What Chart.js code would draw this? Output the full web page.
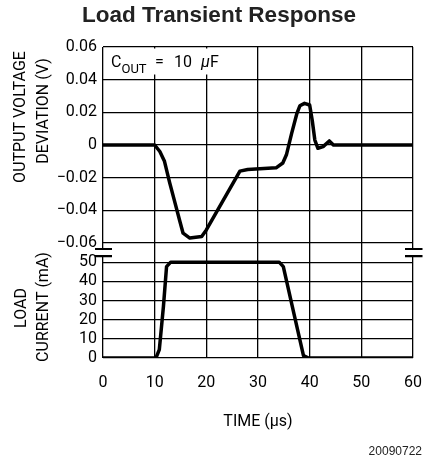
<!DOCTYPE html>
<html>
<head>
<meta charset="utf-8">
<script src="https://cdn.jsdelivr.net/npm/chart.js@4.4.0/dist/chart.umd.min.js"></script>
<style>
  html, body { margin: 0; padding: 0; background: #fff; }
</style>
</head>
<body>
<canvas id="myChart" width="426" height="461"></canvas>
<script>
// tick labels
var timeTicks = [0, 10, 20, 30, 40, 50, 60];
var voltTicks = [-0.06, -0.04, -0.02, 0, 0.02, 0.04, 0.06];
var currTicks = [0, 10, 20, 30, 40, 50];

// output voltage deviation (V) vs time (us)
var voltTime   = [0, 10, 11.0, 11.9, 12.9, 13.9, 14.9, 15.5, 16.8, 19.1, 20.0, 26.5, 28.0, 33.5, 34.8, 35.5, 36.5, 37.5, 38.1, 39.0, 40.0, 40.5, 41.0, 41.6, 42.6, 43.8, 44.6, 60];
var voltValues = [0, 0, -0.004, -0.010, -0.023, -0.035, -0.047, -0.054, -0.057, -0.056, -0.052, -0.016, -0.015, -0.014, -0.011, -0.006, 0.007, 0.019, 0.024, 0.0255, 0.0245, 0.015, 0.003, -0.002, -0.001, 0.0025, 0, 0];

// load current (mA) vs time (us)
var currTime   = [0, 10.25, 10.9, 11.7, 12.3, 13.1, 34.1, 34.9, 36.8, 38.8, 39.8, 60];
var currValues = [0, 0, 4.4, 27, 47.7, 50, 50, 47.7, 25, 1.2, 0, 0];

var narrow = 'Roboto, "DejaVu Sans", sans-serif';
var arial = '"Liberation Sans", Arial, sans-serif';
Chart.defaults.font.family = narrow;
Chart.defaults.color = '#000';

function toPoints(xs, ys) {
  return xs.map(function (x, i) { return {x: x, y: ys[i]}; });
}
function useTicks(list) {
  return function (scale) {
    scale.ticks = list.map(function (v) { return {value: v}; });
  };
}
function fmtVolt(v) {
  if (Math.abs(v) < 1e-9) return '0';
  var s = Math.abs(v).toFixed(2);
  return v < 0 ? '\u2212' + s : s;
}

var grid = { color: '#000', lineWidth: 1.3, drawTicks: false };

// texts and marks around the plot area
var decor = {
  id: 'decor',
  beforeDraw: function (chart) {
    // title sits a little right of the canvas centre
    chart.titleBlock.left = 12;
    chart.titleBlock.right = 426;
  },
  afterDraw: function (chart) {
    var ctx = chart.ctx, a = chart.chartArea;
    var yI = chart.scales.yI;
    ctx.save();

    // C_OUT note
    ctx.fillStyle = '#fff';
    ctx.fillRect(a.left + 1, a.top + 1.5, 120, 26);
    ctx.fillStyle = '#000';
    ctx.textAlign = 'left';
    ctx.textBaseline = 'alphabetic';
    ctx.font = '16px ' + narrow;
    ctx.fillText('C', a.left + 8, a.top + 20);
    ctx.font = '13px ' + narrow;
    ctx.fillText('OUT', a.left + 18.5, a.top + 26);
    ctx.font = '16px ' + narrow;
    ctx.fillText('=', a.left + 52, a.top + 20);
    ctx.fillText('10', a.left + 71, a.top + 20);
    ctx.font = 'italic 16px ' + narrow;
    ctx.fillText('\u03bc', a.left + 98, a.top + 20);
    ctx.font = '16px ' + narrow;
    ctx.fillText('F', a.left + 107, a.top + 20);

    // axis break marks
    var yb = yI.getPixelForValue(55);
    [[a.left - 8, a.left + 9], [a.right - 8, a.right + 9.5]].forEach(function (p) {
      ctx.fillStyle = '#fff';
      ctx.fillRect(p[0], yb - 3, p[1] - p[0], 6);
      ctx.strokeStyle = '#000';
      ctx.lineWidth = 2.2;
      ctx.beginPath();
      ctx.moveTo(p[0], yb - 3.6); ctx.lineTo(p[1], yb - 3.6);
      ctx.moveTo(p[0], yb + 3.6); ctx.lineTo(p[1], yb + 3.6);
      ctx.stroke();
    });

    // y axis titles
    ctx.fillStyle = '#000';
    ctx.font = '16px ' + narrow;
    ctx.textAlign = 'center';
    ctx.textBaseline = 'middle';
    [['OUTPUT VOLTAGE', 21, 117], ['DEVIATION (V)', 43.5, 111],
     ['LOAD', 22, 308], ['CURRENT (mA)', 43.5, 307]].forEach(function (t) {
      ctx.save();
      ctx.translate(t[1], t[2]);
      ctx.rotate(-Math.PI / 2);
      ctx.fillText(t[0], 0, 0);
      ctx.restore();
    });

    // figure number
    ctx.fillStyle = '#222';
    ctx.font = '12px ' + arial;
    ctx.textAlign = 'right';
    ctx.textBaseline = 'alphabetic';
    ctx.fillText('20090722', 422, 455);
    ctx.restore();
  }
};

var ctx = document.getElementById('myChart').getContext('2d');
var chart = new Chart(ctx, {
  type: 'line',
  data: {
    datasets: [{
      label: 'Output voltage deviation',
      data: toPoints(voltTime, voltValues),
      yAxisID: 'yV',
      borderColor: '#000',
      borderWidth: 3.5,
      pointRadius: 0,
      tension: 0,
      borderJoinStyle: 'round',
      borderCapStyle: 'round'
    }, {
      label: 'Load current',
      data: toPoints(currTime, currValues),
      yAxisID: 'yI',
      borderColor: '#000',
      borderWidth: 3.5,
      pointRadius: 0,
      tension: 0,
      borderJoinStyle: 'round',
      borderCapStyle: 'round'
    }]
  },
  options: {
    responsive: false,
    animation: false,
    events: [],
    layout: { padding: { left: 0, right: 13, top: 0, bottom: 0 } },
    plugins: {
      legend: { display: false },
      tooltip: { enabled: false },
      title: {
        display: true,
        text: 'Load Transient Response',
        color: '#222',
        font: { family: arial, size: 22.5, weight: 'bold', lineHeight: 1.2 },
        padding: { top: 2, bottom: 18 }
      }
    },
    scales: {
      x: {
        type: 'linear',
        min: 0, max: 60,
        afterBuildTicks: useTicks(timeTicks),
        afterFit: function (s) { s.height = 103; s.paddingLeft = 0; s.paddingRight = 0; },
        grid: grid,
        border: { display: false },
        ticks: { padding: 15, autoSkip: false, maxRotation: 0, font: { size: 16 } },
        title: { display: true, text: 'TIME (\u03bcs)', font: { size: 16 }, padding: { top: 0, bottom: 29 } }
      },
      yV: {
        type: 'linear',
        position: 'left',
        stack: 'panels',
        stackWeight: 196,
        weight: 2,
        min: -0.06, max: 0.06,
        afterBuildTicks: useTicks(voltTicks),
        afterFit: function (s) { s.width = 103; s.paddingTop = 0; s.paddingBottom = 0; },
        grid: grid,
        border: { display: false },
        ticks: { padding: 6, autoSkip: false, font: { size: 16 }, callback: fmtVolt }
      },
      yI: {
        type: 'linear',
        position: 'left',
        stack: 'panels',
        stackWeight: 115,
        weight: 1,
        min: 0, max: 60,
        afterBuildTicks: useTicks(currTicks),
        afterFit: function (s) { s.width = 103; s.paddingTop = 0; s.paddingBottom = 0; },
        grid: grid,
        border: { display: false },
        ticks: { padding: 6, autoSkip: false, font: { size: 16 } }
      }
    }
  },
  plugins: [decor]
});
</script>
</body>
</html>
